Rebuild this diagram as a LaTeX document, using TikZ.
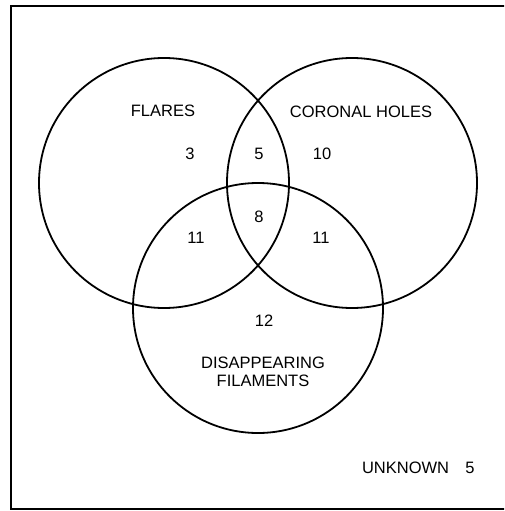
\documentclass[tikz,border=0pt]{standalone}
\usepackage{fontspec}
\setmainfont{Liberation Sans}
\usepackage{tikz}
\usetikzlibrary{positioning}

\begin{document}
\begin{tikzpicture}[x=1pt,y=-1pt,line width=1.8pt]
        \tikzstyle{set}=[circle,draw,minimum size=250pt,inner sep=0pt]
        \tikzstyle{setname}=[font=\fontsize{16.5}{19}\selectfont,align=center,inner sep=0pt]
        \tikzstyle{count}=[font=\fontsize{16.5}{19}\selectfont,inner sep=0pt]
        \useasboundingbox (0,0) rectangle (504,511);
        \clip (0,0) rectangle (504,511);

        % Frame (right side runs off the page)
        \draw (11,6) rectangle (512,509);

        % The three sets
        \node[set] (flares) at (164,183) {};
        \node[set] (coronal) at (352,183) {};
        \node[set] (filaments) at (258,308) {};

        % Set names
        \node[setname] (flaresname) at (163,111) {FLARES};
        \node[setname] (coronalname) at (361,112) {CORONAL HOLES};
        \node[setname] (filamentsname) at (263,372) {DISAPPEARING\\[-1pt]FILAMENTS};

        % Counts in each region
        \foreach \name/\x/\y/\n in {f/190/154/3, fc/259/154/5, c/322/154/10,
                                    fcd/259/217/8, fd/196/238/11, cd/321/238/11,
                                    d/264/321/12}
            \node[count] (n-\name) at (\x,\y) {\n};

        % Outside all sets
        \node[setname,anchor=east] (unknown) at (450,468) {UNKNOWN};
        \node[count] (n-unknown) at (470,468) {5};
    \end{tikzpicture}
\end{document}
